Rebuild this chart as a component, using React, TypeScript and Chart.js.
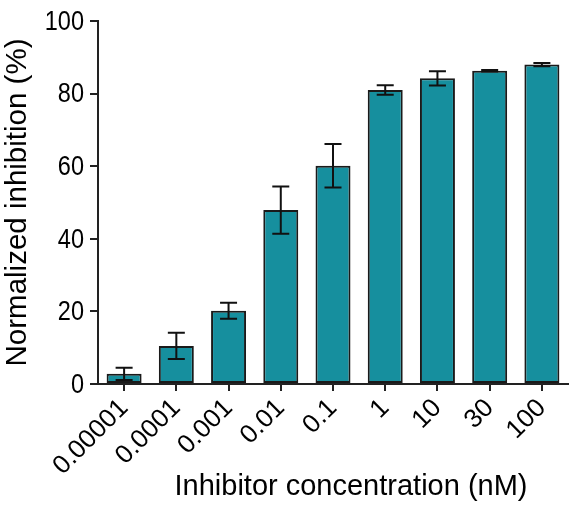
import React, { useEffect, useRef } from "react";
import { Chart, registerables } from "chart.js";

Chart.register(...registerables);

const categories = ["0.00001", "0.0001", "0.001", "0.01", "0.1", "1", "10", "30", "100"];
const means = [2.8, 10.5, 20.2, 47.9, 60.1, 81.0, 84.2, 86.3, 88.0];
const sds = [1.7, 3.6, 2.2, 6.5, 6.0, 1.3, 1.95, 0.2, 0.45];
const yTicks = [0, 20, 40, 60, 80, 100];
const xTitle = "Inhibitor concentration (nM)";
const yTitle = "Normalized inhibition (%)";

const FONT = "'Liberation Sans', Arial, sans-serif";

const errorBarPlugin = {
  id: "errorBars",
  afterDatasetsDraw(chart: any) {
    const ctx = chart.ctx;
    const meta = chart.getDatasetMeta(0);
    const yScale = chart.scales.y;
    ctx.save();
    ctx.strokeStyle = "#111";
    ctx.lineWidth = 2;
    meta.data.forEach((bar: any, i: number) => {
      const x = bar.x;
      const top = yScale.getPixelForValue(means[i] + sds[i]);
      const bot = yScale.getPixelForValue(means[i] - sds[i]);
      const half = 8.5;
      ctx.beginPath();
      ctx.moveTo(x, top);
      ctx.lineTo(x, bot);
      ctx.moveTo(x - half, top);
      ctx.lineTo(x + half, top);
      ctx.moveTo(x - half, bot);
      ctx.lineTo(x + half, bot);
      ctx.stroke();
    });
    ctx.restore();
  },
};

// y tick labels drawn slightly condensed, and x title offset like the reference
const textPlugin = {
  id: "customText",
  afterDraw(chart: any) {
    const ctx = chart.ctx;
    const yScale = chart.scales.y;
    const area = chart.chartArea;
    ctx.save();
    ctx.fillStyle = "#000";
    ctx.font = `28px ${FONT}`;
    ctx.textAlign = "right";
    ctx.textBaseline = "middle";
    yTicks.forEach((v) => {
      const y = yScale.getPixelForValue(v);
      ctx.save();
      ctx.translate(area.left - 14, y + 1);
      ctx.scale(0.84, 1);
      ctx.fillText(String(v), 0, 0);
      ctx.restore();
    });
    ctx.font = `29px ${FONT}`;
    ctx.textAlign = "center";
    ctx.textBaseline = "middle";
    ctx.fillText(xTitle, area.left + (area.right - area.left) / 2 + 18, 487);
    ctx.restore();
  },
};

export default function App() {
  const ref = useRef<HTMLCanvasElement>(null);
  useEffect(() => {
    const chart = new Chart(ref.current!, {
      type: "bar",
      data: {
        labels: categories,
        datasets: [
          {
            data: means,
            backgroundColor: "#168f9e",
            borderColor: "#1a1a1a",
            borderWidth: 2,
            borderSkipped: false,
            barPercentage: 0.67,
            categoryPercentage: 1,
          },
        ],
      },
      options: {
        animation: false,
        responsive: false,
        maintainAspectRatio: false,
        layout: { padding: { top: 21, right: 4, left: 0, bottom: 0 } },
        plugins: { legend: { display: false }, tooltip: { enabled: false } },
        scales: {
          x: {
            afterFit(scale: any) {
              scale.height = 130;
            },
            ticks: {
              minRotation: 45,
              maxRotation: 45,
              color: "#000",
              padding: 2,
              font: { family: FONT, size: 26 },
            },
            grid: {
              offset: false,
              drawOnChartArea: false,
              drawTicks: true,
              tickLength: 7,
              color: "#222",
              lineWidth: 2,
            },
            border: { display: true, color: "#222", width: 2 },
            title: { display: false, text: xTitle },
          },
          y: {
            min: 0,
            max: 100,
            afterFit(scale: any) {
              scale.width = 98;
            },
            afterBuildTicks(scale: any) {
              scale.ticks = yTicks.map((v) => ({ value: v }));
            },
            ticks: {
              display: false,
            },
            grid: {
              drawOnChartArea: false,
              drawTicks: true,
              tickLength: 8,
              color: "#222",
              lineWidth: 2,
            },
            border: { display: true, color: "#222", width: 2 },
            title: {
              display: true,
              text: yTitle,
              color: "#000",
              font: { family: FONT, size: 29.5 },
              padding: { top: 0, bottom: 0 },
            },
          },
        },
      },
      plugins: [errorBarPlugin, textPlugin],
    });
    return () => chart.destroy();
  }, []);
  return (
    <div style={{ position: "fixed", left: 0, top: 0, width: 572, height: 514, background: "#fff" }}>
      <canvas ref={ref} width={572} height={514} style={{ display: "block", width: 572, height: 514 }} />
    </div>
  );
}
